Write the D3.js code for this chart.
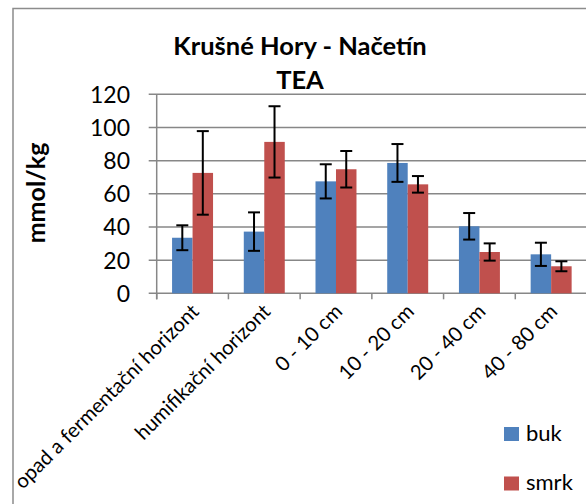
<!DOCTYPE html>
<html>
<head>
<meta charset="utf-8">
<script src="https://cdnjs.cloudflare.com/ajax/libs/d3/7.8.5/d3.min.js"></script>
<style>
  html, body { margin: 0; padding: 0; background: #fff; }
  svg { display: block; font-family: Lato, "Open Sans", sans-serif; }
</style>
</head>
<body>
<div id="chart"></div>
<script>
// categories and values
const categories = ["opad a fermentační horizont", "humifikační horizont", "0 - 10 cm", "10 - 20 cm", "20 - 40 cm", "40 - 80 cm"];
const seriesNames = ["buk", "smrk"];
const bukValues = [33.5, 37.2, 67.5, 78.6, 40.4, 23.5];
const bukErrors = [7.5, 11.6, 10.3, 11.4, 8, 7];
const smrkValues = [72.6, 91.3, 74.8, 65.7, 24.9, 16.3];
const smrkErrors = [25.2, 21.5, 11, 5, 5.2, 3];
const yTicks = [0, 20, 40, 60, 80, 100, 120];

const width = 586, height = 504;
const colors = { buk: "#4f81bd", smrk: "#c0504d" };
const gridColor = "#878787";

const svg = d3.select("#chart").append("svg")
    .attr("width", width)
    .attr("height", height);

// chart frame (right and bottom edges fall outside the window)
svg.append("rect")
    .attr("x", 13).attr("y", 8.5)
    .attr("width", width + 20).attr("height", height + 20)
    .attr("fill", "none")
    .attr("stroke", "#8c8c8c")
    .attr("stroke-width", 1.5);

const plot = { left: 156.7, right: 587, top: 94.3, bottom: 293.3 };

const x = d3.scaleBand()
    .domain(categories)
    .range([plot.left, plot.right])
    .paddingInner(0)
    .paddingOuter(0);

const y = d3.scaleLinear()
    .domain([0, 120])
    .range([plot.bottom, plot.top]);

// bar width: Excel gap width 150% -> 2 bars + 1.5 bar of gap per category
const barW = x.bandwidth() / 3.5;

// gridlines
svg.append("g")
    .selectAll("line")
    .data(yTicks)
    .join("line")
    .attr("x1", plot.left - 8)
    .attr("x2", plot.right)
    .attr("y1", d => y(d))
    .attr("y2", d => y(d))
    .attr("stroke", gridColor)
    .attr("stroke-width", 1.5);

// y axis line
svg.append("line")
    .attr("x1", plot.left).attr("x2", plot.left)
    .attr("y1", plot.top).attr("y2", plot.bottom + 6)
    .attr("stroke", gridColor)
    .attr("stroke-width", 1.5);

// x tick marks at category boundaries
const boundaries = categories.map(c => x(c)).concat([plot.right]);
svg.append("g")
    .selectAll("line")
    .data(boundaries)
    .join("line")
    .attr("x1", d => d).attr("x2", d => d)
    .attr("y1", plot.bottom).attr("y2", plot.bottom + 6)
    .attr("stroke", gridColor)
    .attr("stroke-width", 1.5);

// y tick labels
svg.append("g")
    .selectAll("text")
    .data(yTicks)
    .join("text")
    .attr("x", 130)
    .attr("y", d => y(d))
    .attr("dy", "0.37em")
    .attr("text-anchor", "end")
    .attr("font-size", 23)
    .attr("fill", "#000")
    .text(d => d);

// y axis title
svg.append("text")
    .attr("transform", "translate(45,193) rotate(-90)")
    .attr("text-anchor", "middle")
    .attr("font-size", 25)
    .attr("font-weight", "bold")
    .text("mmol/kg");

// title
svg.append("text")
    .attr("x", 300).attr("y", 55)
    .attr("text-anchor", "middle")
    .attr("font-size", 25.5)
    .attr("font-weight", "bold")
    .text("Krušné Hory - Načetín");
svg.append("text")
    .attr("x", 300).attr("y", 89)
    .attr("text-anchor", "middle")
    .attr("font-size", 25.5)
    .attr("font-weight", "bold")
    .text("TEA");

// bars + error bars
const series = [
  { name: "buk", values: bukValues, errors: bukErrors, offset: 0 },
  { name: "smrk", values: smrkValues, errors: smrkErrors, offset: 1 }
];

series.forEach(s => {
  const rows = categories.map((c, i) => ({ c, v: s.values[i], e: s.errors[i] }));
  const g = svg.append("g");
  g.selectAll("rect")
    .data(rows)
    .join("rect")
    .attr("x", d => x(d.c) + barW * 0.75 + s.offset * barW)
    .attr("y", d => y(d.v))
    .attr("width", barW)
    .attr("height", d => y(0) - y(d.v))
    .attr("fill", colors[s.name]);

  const cx = d => x(d.c) + barW * 0.75 + s.offset * barW + barW / 2;
  const eb = svg.append("g")
      .attr("stroke", "#000")
      .attr("stroke-width", 2);
  eb.selectAll("line.v")
    .data(rows)
    .join("line")
    .attr("class", "v")
    .attr("x1", cx).attr("x2", cx)
    .attr("y1", d => y(d.v + d.e))
    .attr("y2", d => y(d.v - d.e));
  eb.selectAll("line.t")
    .data(rows)
    .join("line")
    .attr("class", "t")
    .attr("x1", d => cx(d) - 6).attr("x2", d => cx(d) + 6)
    .attr("y1", d => y(d.v + d.e))
    .attr("y2", d => y(d.v + d.e));
  eb.selectAll("line.b")
    .data(rows)
    .join("line")
    .attr("class", "b")
    .attr("x1", d => cx(d) - 6).attr("x2", d => cx(d) + 6)
    .attr("y1", d => y(d.v - d.e))
    .attr("y2", d => y(d.v - d.e));
});

// rotated category labels
svg.append("g")
    .selectAll("text")
    .data(categories)
    .join("text")
    .attr("transform", d => `translate(${x(d) + x.bandwidth() / 2 - 4},${plot.bottom + 8}) rotate(-45)`)
    .attr("dy", "0.8em")
    .attr("text-anchor", "end")
    .attr("font-size", 20.3)
    .text(d => d);

// legend
const legend = svg.append("g")
    .selectAll("g")
    .data(seriesNames)
    .join("g")
    .attr("transform", (d, i) => `translate(504,${427 + i * 49.5})`);
legend.append("rect")
    .attr("width", 15).attr("height", 14)
    .attr("fill", d => colors[d]);
legend.append("text")
    .attr("x", 22).attr("y", 13.5)
    .attr("font-size", 22)
    .text(d => d);
</script>
</body>
</html>
